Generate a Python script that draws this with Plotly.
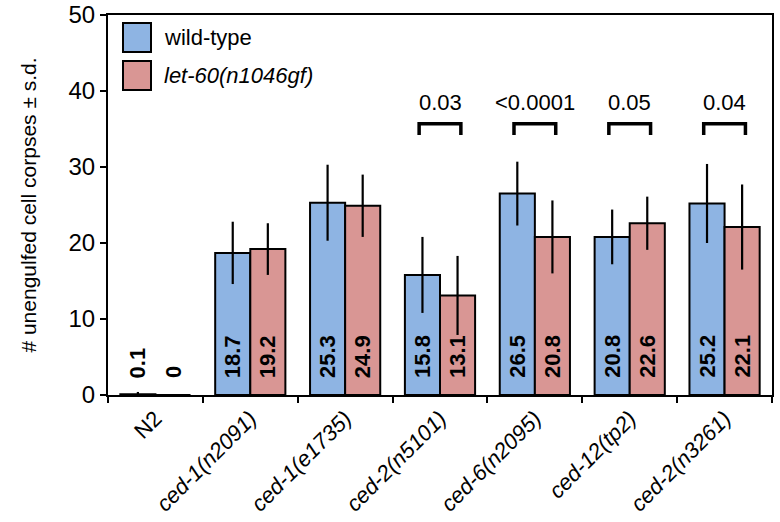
import plotly.graph_objects as go

categories = ["N2", "ced-1(n2091)", "ced-1(e1735)", "ced-2(n5101)",
              "ced-6(n2095)", "ced-12(tp2)", "ced-2(n3261)"]
tick_labels = ["N2", "<i>ced-1(n2091)</i>", "<i>ced-1(e1735)</i>", "<i>ced-2(n5101)</i>",
               "<i>ced-6(n2095)</i>", "<i>ced-12(tp2)</i>", "<i>ced-2(n3261)</i>"]
series_names = ["wild-type", "<i>let-60(n1046gf)</i>"]
wt_values = [0.1, 18.7, 25.3, 15.8, 26.5, 20.8, 25.2]
wt_sd = [0.3, 4.1, 5.0, 5.0, 4.2, 3.6, 5.2]
gf_values = [0, 19.2, 24.9, 13.1, 20.8, 22.6, 22.1]
gf_sd = [0.0, 3.4, 4.1, 5.2, 4.8, 3.5, 5.6]
pvalue_categories = ["ced-2(n5101)", "ced-6(n2095)", "ced-12(tp2)", "ced-2(n3261)"]
pvalue_labels = ["0.03", "<0.0001", "0.05", "0.04"]

BLUE = "#8EB4E3"
RED = "#D99694"
FONT = "Liberation Sans, Arial, sans-serif"
BARGAP = 0.26
PL, PT, PW, PH = 108, 15, 664, 380
W, H = 780, 522

fig = go.Figure()
series = [(series_names[0], wt_values, wt_sd, BLUE),
          (series_names[1], gf_values, gf_sd, RED)]
for name, vals, sds, col in series:
    fig.add_trace(go.Bar(
        x=categories, y=vals, name=name,
        marker=dict(color=col, line=dict(color="black", width=2)),
        error_y=dict(type="data", array=sds, visible=True, color="black",
                     thickness=2.2, width=0),
        cliponaxis=False, showlegend=False, hoverinfo="skip",
    ))

shapes = []
annotations = []
cat_index = {c: i for i, c in enumerate(categories)}

# value labels at the base of each bar
half = (1 - BARGAP) / 4
for k, (name, vals, sds, col) in enumerate(series):
    off = -half if k == 0 else half
    for i, v in enumerate(vals):
        annotations.append(dict(x=i + off, y=0, xref="x", yref="y",
                                text="<b>%g</b>" % v, textangle=-90,
                                showarrow=False, yanchor="bottom", xanchor="center",
                                yshift=15,
                                font=dict(family=FONT, size=22, color="black")))

for c, lab in zip(pvalue_categories, pvalue_labels):
    i = cat_index[c]
    shapes.append(dict(type="path", xref="x", yref="y",
                       path=f"M {i-0.22},34.2 L {i-0.22},35.7 L {i+0.22},35.7 L {i+0.22},34.2",
                       line=dict(color="black", width=3.5)))
    annotations.append(dict(x=i, y=36.6, xref="x", yref="y", text=lab,
                            showarrow=False, yanchor="bottom",
                            font=dict(family=FONT, size=22, color="black")))

# legend drawn as swatches + text
legend_cols = [BLUE, RED]
for k, (name, col) in enumerate(zip(series_names, legend_cols)):
    y0 = 23 + k * 38
    shapes.append(dict(type="rect", xref="paper", yref="paper",
                       x0=(123 - PL) / PW, x1=(151 - PL) / PW,
                       y0=1 - (y0 + 29 - PT) / PH, y1=1 - (y0 - PT) / PH,
                       fillcolor=col, line=dict(color="black", width=2)))
    annotations.append(dict(x=(162 - PL) / PW, y=1 - (y0 + 14.5 - PT) / PH,
                            xref="paper", yref="paper", text=name,
                            showarrow=False, xanchor="left", yanchor="middle",
                            font=dict(family=FONT, size=22, color="black")))

fig.update_layout(
    width=W, height=H,
    margin=dict(l=PL, r=W - (PL + PW), t=PT, b=H - (PT + PH), autoexpand=False),
    paper_bgcolor="white", plot_bgcolor="white",
    barmode="group", bargap=BARGAP, bargroupgap=0,
    font=dict(family=FONT, size=22, color="black"),
    shapes=shapes, annotations=annotations,
    showlegend=False, hovermode=False,
)
fig.update_xaxes(
    type="category", tickmode="array", tickvals=categories, ticktext=tick_labels,
    tickangle=-45, tickson="boundaries", ticks="outside", ticklen=6,
    tickwidth=2, tickcolor="black",
    showline=True, linewidth=2, linecolor="black", mirror=True,
    showgrid=False, tickfont=dict(family=FONT, size=22, color="black"),
    automargin=False,
)
fig.update_yaxes(
    range=[0, 50], tickvals=[0, 10, 20, 30, 40, 50],
    ticks="outside", ticklen=6, tickwidth=2, tickcolor="black",
    showline=True, linewidth=2, linecolor="black", mirror=True,
    showgrid=False, zeroline=False,
    tickfont=dict(family=FONT, size=24, color="black"),
    title=dict(text="# unengulfed cell corpses ± s.d.", standoff=26,
               font=dict(family=FONT, size=21, color="black")),
    automargin=False,
)
fig.write_html("out.html", config={"displayModeBar": False},
               post_script="document.body.style.margin='0px';")
